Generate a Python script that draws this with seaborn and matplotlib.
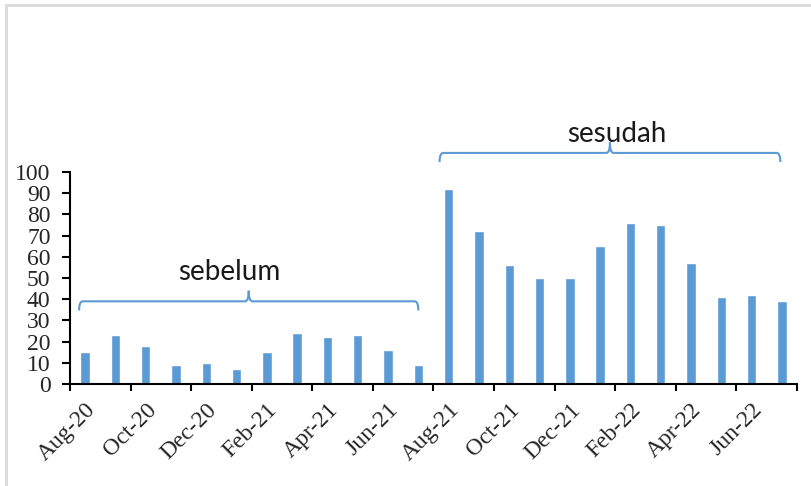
import numpy as np
import pandas as pd
import seaborn as sns
import matplotlib
matplotlib.use("Agg")
import matplotlib.pyplot as plt
from matplotlib.path import Path
from matplotlib.patches import PathPatch, Rectangle

# data
months = ["Aug-20", "Sep-20", "Oct-20", "Nov-20", "Dec-20", "Jan-21",
          "Feb-21", "Mar-21", "Apr-21", "May-21", "Jun-21", "Jul-21",
          "Aug-21", "Sep-21", "Oct-21", "Nov-21", "Dec-21", "Jan-22",
          "Feb-22", "Mar-22", "Apr-22", "May-22", "Jun-22", "Jul-22"]
sebelum = [15, 23, 18, 9, 10, 7, 15, 24, 22, 23, 16, 9]
sesudah = [92, 72, 56, 50, 50, 65, 76, 75, 57, 41, 42, 39]
values = sebelum + sesudah
y_ticks = list(range(0, 101, 10))

df = pd.DataFrame({"month": months, "value": values})

blue = "#5B9BD5"
serif = "Liberation Serif"
sans = "Lato"

sns.set_theme(style="white")
plt.rcParams["font.family"] = [serif, "DejaVu Sans"]

fig = plt.figure(figsize=(8.11, 4.86), dpi=100)
ax = fig.add_axes([70 / 811, 1 - 384 / 486, 727 / 811, 212 / 486])

sns.barplot(data=df, x="month", y="value", color=blue, saturation=1,
            width=0.31, ax=ax)

# axis
ax.set_xlim(-0.5, len(months) - 0.5)
ax.set_ylim(0, 100)
ax.set_yticks(y_ticks)
ax.set_yticklabels([str(v) for v in y_ticks], fontsize=17, family=serif)
ax.set_xticks(np.arange(-0.5, len(months), 2))
ax.set_xticklabels([])
ax.set_xticks(np.arange(0, len(months), 2), minor=True)
ax.set_xticklabels(months[::2], minor=True, rotation=45, ha="right",
                   rotation_mode="anchor", fontsize=17, family=serif)
ax.tick_params(axis="x", which="major", direction="out", length=5,
               width=1.5, color="black", bottom=True)
ax.tick_params(axis="x", which="minor", length=0, pad=11)
ax.tick_params(axis="y", direction="out", length=6, width=1.5,
               color="black", left=True, pad=8)
ax.set_xlabel("")
ax.set_ylabel("")
for s in ["top", "right"]:
    ax.spines[s].set_visible(False)
for s in ["left", "bottom"]:
    ax.spines[s].set_color("black")
    ax.spines[s].set_linewidth(1.5)
ax.grid(False)


# kurung kurawal
def brace(ax, x0, x1, y, h_end, h_mid, r=0.12):
    xm = (x0 + x1) / 2
    verts = [(x0, y - h_end), (x0, y), (x0 + r, y),
             (xm - r, y), (xm, y), (xm, y + h_mid),
             (xm, y), (xm + r, y),
             (x1 - r, y), (x1, y), (x1, y - h_end)]
    codes = [Path.MOVETO, Path.CURVE3, Path.CURVE3,
             Path.LINETO, Path.CURVE3, Path.CURVE3,
             Path.CURVE3, Path.CURVE3,
             Path.LINETO, Path.CURVE3, Path.CURVE3]
    ax.add_patch(PathPatch(Path(verts, codes), fill=False, edgecolor=blue,
                           lw=1.5, clip_on=False))


brace(ax, -0.2, 11.0, 39, 4.3, 5)
brace(ax, 11.7, 22.95, 109, 4.3, 5)
ax.text(4.75, 53, "sebelum", ha="center", va="center", fontsize=20,
        family=sans, color="#1a1a1a")
ax.text(17.55, 118, "sesudah", ha="center", va="center", fontsize=20,
        family=sans, color="#1a1a1a", clip_on=False)

# bingkai
fig.add_artist(Rectangle((6 / 811, -0.05), 1.1, 1.05 - 5 / 486,
                         transform=fig.transFigure, fill=False,
                         edgecolor="#d9d9d9", lw=2))

fig.savefig("out.png", dpi=100)
